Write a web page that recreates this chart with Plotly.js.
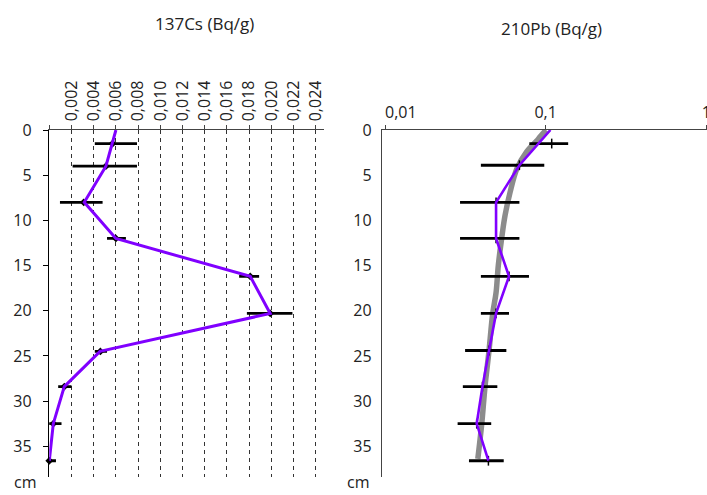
<!DOCTYPE html>
<html>
<head>
<meta charset="utf-8">
<script src="https://cdn.plot.ly/plotly-3.0.1.min.js"></script>
<style>html,body{margin:0;padding:0;background:#fff;}#chart{width:707px;height:495px;}</style>
</head>
<body>
<div id="chart"></div>
<script>
// ---- 137Cs (left panel) ----
const csLineDepth = [0, 4, 8, 12, 16.2, 20.3, 24.5, 28.4, 32.5, 36.6];
const csLine      = [0.0060, 0.0051, 0.00315, 0.0060, 0.0181, 0.0199, 0.00457, 0.00135, 0.00036, 0.0];
const csBarDepth  = [1.5, 4, 8, 12, 16.2, 20.3, 24.5, 28.4, 32.5, 36.6];
const csBarValue  = [0.0057, 0.0051, 0.0031, 0.0060, 0.0181, 0.0199, 0.0046, 0.00135, 0.00036, 0.0];
const csLow       = [0.0041, 0.0021, 0.00096, 0.0052, 0.0171, 0.0178, 0.0041, 0.0008, -0.0001, -0.0006];
const csHigh      = [0.0079, 0.0079, 0.0048, 0.0069, 0.0189, 0.0219, 0.0052, 0.0020, 0.0011, 0.0006];
const csTickVals  = [0, 0.002, 0.004, 0.006, 0.008, 0.010, 0.012, 0.014, 0.016, 0.018, 0.020, 0.022, 0.024];
const csTickText  = ["", "0,002", "0,004", "0,006", "0,008", "0,010", "0,012", "0,014", "0,016", "0,018", "0,020", "0,022", "0,024"];

// ---- 210Pb (right panel) ----
const pbLineDepth = [0, 3.9, 8, 12, 16.2, 20.3, 24.4, 28.4, 32.5, 36.6];
const pbLine      = [0.107, 0.0686, 0.0491, 0.0491, 0.0591, 0.0491, 0.0444, 0.0404, 0.0372, 0.0440];
const pbBarDepth  = [1.5, 3.9, 8, 12, 16.2, 20.3, 24.4, 28.4, 32.5, 36.6];
const pbBarValue  = [0.109, 0.0686, 0.0491, 0.0491, 0.0591, 0.0491, 0.0444, 0.0404, 0.0372, 0.0440];
const pbLow       = [0.0791, 0.0395, 0.0293, 0.0293, 0.0395, 0.0395, 0.0315, 0.0305, 0.0283, 0.0333];
const pbHigh      = [0.138, 0.098, 0.0686, 0.0686, 0.0787, 0.0591, 0.0569, 0.050, 0.0458, 0.0548];
const pbFitDepth  = [0, 0.75, 1.2, 2.4, 4.3, 6.9, 9.5, 12, 15, 18, 20.3, 24.4, 28.4, 32.5, 36.4];
const pbFit       = [0.1005, 0.0922, 0.0879, 0.0762, 0.0661, 0.060, 0.0558, 0.0532, 0.0507, 0.0491, 0.0468, 0.0444, 0.0419, 0.040, 0.0378];
const pbTickVals  = [0.01, 0.1, 1];
const pbTickText  = ["0,01", "0,1", "1"];

const depthTicks  = [0, 5, 10, 15, 20, 25, 30, 35];

const PURPLE = "rgb(128,0,255)";
const TXT = "#222";
const FONT = "Open Sans, Noto Sans, sans-serif";

const up = (v, c) => v.map((x, i) => x - c[i]);
const down = (v, c) => c.map((x, i) => x - v[i]);

const traces = [
  {
    x: csBarValue, y: csBarDepth, xaxis: "x", yaxis: "y", type: "scatter", mode: "markers",
    cliponaxis: false,
    marker: {symbol: "diamond", size: 6, color: "#000"},
    error_x: {type: "data", symmetric: false, array: up(csHigh, csBarValue), arrayminus: down(csLow, csBarValue),
              color: "#000", thickness: 2.8, width: 0},
    hoverinfo: "skip", showlegend: false
  },
  {
    x: csLine, y: csLineDepth, xaxis: "x", yaxis: "y", type: "scatter", mode: "lines",
    line: {color: PURPLE, width: 3}, showlegend: false
  },
  {
    x: pbFit, y: pbFitDepth, xaxis: "x2", yaxis: "y2", type: "scatter", mode: "lines",
    line: {color: "#8c8c8c", width: 5.5, shape: "spline"}, showlegend: false
  },
  {
    x: pbBarValue, y: pbBarDepth, xaxis: "x2", yaxis: "y2", type: "scatter", mode: "markers",
    cliponaxis: false,
    marker: {symbol: "line-ns-open", size: 7, color: "#000", line: {color: "#000", width: 1.5}},
    error_x: {type: "data", symmetric: false, array: up(pbHigh, pbBarValue), arrayminus: down(pbLow, pbBarValue),
              color: "#000", thickness: 2.8, width: 0},
    hoverinfo: "skip", showlegend: false
  },
  {
    x: pbLine, y: pbLineDepth, xaxis: "x2", yaxis: "y2", type: "scatter", mode: "lines",
    line: {color: PURPLE, width: 2.6}, showlegend: false
  }
];

const W = 707, H = 495;
const yTop = 1 - 130 / H, yBot = 1 - 477 / H;

// the first log tick label sits to the right of its tick in the reference
const pbTickTextShown = pbTickText.map((t, i) => (i === 0 ? "" : t));

const layout = {
  width: W, height: H,
  margin: {l: 0, r: 0, t: 0, b: 0},
  paper_bgcolor: "#fff", plot_bgcolor: "#fff",
  font: {family: FONT, size: 16, color: TXT},
  showlegend: false,
  xaxis: {
    domain: [49.3 / W, 323.5 / W], anchor: "y", side: "top",
    range: [0, 0.0247], tickmode: "array", tickvals: csTickVals, ticktext: csTickText,
    tickangle: -90, ticks: "outside", ticklen: 4, tickcolor: "#444", tickwidth: 1,
    showline: true, linecolor: "#444", linewidth: 1.5, zeroline: false,
    showgrid: true, gridcolor: "#333", gridwidth: 1, griddash: "4px,4px",
    tickfont: {size: 16, color: TXT}
  },
  yaxis: {
    domain: [yBot, yTop], anchor: "x", range: [38.4, 0],
    tickmode: "array", tickvals: depthTicks, ticks: "outside", ticklen: 5, tickcolor: "#000",
    showline: true, linecolor: "#000", linewidth: 1.5, zeroline: false, showgrid: false,
    ticklabelstandoff: 8, tickfont: {size: 16, color: TXT}
  },
  xaxis2: {
    domain: [382.3 / W, 1], anchor: "y2", side: "top", type: "log",
    range: [-2.017, 0.004], tickmode: "array", tickvals: pbTickVals, ticktext: pbTickTextShown,
    ticks: "outside", ticklen: 4, tickcolor: "#444", tickwidth: 1, ticklabeloverflow: "allow",
    showline: true, linecolor: "#444", linewidth: 1.5, zeroline: false, showgrid: false,
    tickfont: {size: 16, color: TXT}
  },
  yaxis2: {
    domain: [yBot, yTop], anchor: "x2", range: [38.4, 0],
    tickmode: "array", tickvals: depthTicks, ticks: "",
    showline: true, linecolor: "#444", linewidth: 1.5, zeroline: false, showgrid: false,
    ticklabelstandoff: 6, tickfont: {size: 16, color: TXT}
  },
  annotations: [
    {text: "137Cs (Bq/g)", xref: "paper", yref: "paper", x: 204 / W, y: 1 - 24 / H, showarrow: false,
     xanchor: "center", yanchor: "middle", font: {size: 17, color: TXT}},
    {text: "210Pb (Bq/g)", xref: "paper", yref: "paper", x: 551 / W, y: 1 - 28 / H, showarrow: false,
     xanchor: "center", yanchor: "middle", font: {size: 17, color: TXT}},
    {text: pbTickText[0], xref: "x2", yref: "paper", x: Math.log10(pbTickVals[0]), y: 1 - 112 / H, showarrow: false,
     xanchor: "left", yanchor: "middle", xshift: -2, font: {size: 16, color: TXT}},
    {text: "cm", xref: "paper", yref: "paper", x: 25 / W, y: 0, showarrow: false,
     xanchor: "center", yanchor: "bottom", font: {size: 16, color: TXT}},
    {text: "cm", xref: "paper", yref: "paper", x: 358 / W, y: 0, showarrow: false,
     xanchor: "center", yanchor: "bottom", font: {size: 16, color: TXT}}
  ]
};

Plotly.newPlot("chart", traces, layout, {staticPlot: true, displayModeBar: false});
</script>
</body>
</html>
